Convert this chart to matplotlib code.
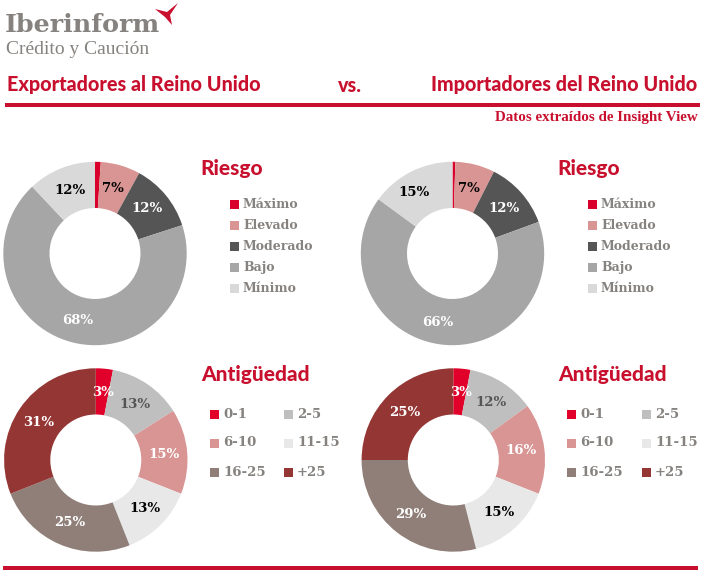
import matplotlib
matplotlib.use("Agg")
import matplotlib.pyplot as plt
from matplotlib.patches import Rectangle, Polygon

W, H = 702, 574
RED = '#c8102e'
GREY = '#85827f'

# colours of the slices
c_riesgo = ['#d9002b', '#d99494', '#555555', '#a6a6a6', '#d9d9d9']
c_antig = ['#e0002a', '#bfbfbf', '#d99494', '#e8e8e8', '#8f7f78', '#943634']

riesgo_labels = ['Máximo', 'Elevado', 'Moderado', 'Bajo', 'Mínimo']
antig_labels = ['0-1', '2-5', '6-10', '11-15', '16-25', '+25']

# value, shown text (None = no label), label colour, label position px
charts = [
    dict(cx=95, cy=253.5, colors=c_riesgo,
         values=[1, 7, 12, 68, 12],
         labels=[None, '7%', '12%', '68%', '12%'],
         tcol=[None, 'black', 'white', 'white', 'black'],
         tpos=[None, (113, 188), (147, 209), (78, 321), (70, 190)]),
    dict(cx=452.5, cy=253.5, colors=c_riesgo,
         values=[0.5, 7, 12, 66, 15],
         labels=[None, '7%', '12%', '66%', '15%'],
         tcol=[None, 'black', 'white', 'white', 'black'],
         tpos=[None, (469, 188), (504, 208), (438, 322), (414, 192)]),
    dict(cx=95.8, cy=460, colors=c_antig,
         values=[3, 13, 15, 13, 25, 31],
         labels=['3%', '13%', '15%', '13%', '25%', '31%'],
         tcol=['white', '#555555', 'white', 'black', 'white', 'white'],
         tpos=[(103, 392), (135, 404), (164, 454), (145, 508), (70, 523), (39, 422)]),
    dict(cx=453.3, cy=460, colors=c_antig,
         values=[3, 12, 16, 15, 29, 25],
         labels=['3%', '12%', '16%', '15%', '29%', '25%'],
         tcol=['white', '#555555', 'white', 'black', 'white', 'white'],
         tpos=[(461, 392), (491, 403), (521, 451), (499, 512), (411, 515), (405, 412)]),
]
R = 91.7
HOLE = 45.5


def add_donut(fig, ch):
    ax = fig.add_axes([(ch['cx'] - R) / W, 1 - (ch['cy'] + R) / H, 2 * R / W, 2 * R / H])
    ax.pie(ch['values'], colors=ch['colors'], startangle=90, counterclock=False,
           radius=1.0, wedgeprops=dict(width=1 - HOLE / R, linewidth=0))
    ax.set_xlim(-1, 1)
    ax.set_ylim(-1, 1)
    ax.set_aspect('equal')
    ax.axis('off')


def main():
    fig = plt.figure(figsize=(W / 100, H / 100), dpi=100)
    for ch in charts:
        add_donut(fig, ch)

    # overlay in pixel coords for titles, legends and rules
    ov = fig.add_axes([0, 0, 1, 1], facecolor='none')
    ov.set_xlim(0, W)
    ov.set_ylim(H, 0)
    ov.axis('off')

    for ch in charts:
        for lab, col, pos in zip(ch['labels'], ch['tcol'], ch['tpos']):
            if lab:
                ov.text(pos[0], pos[1], lab, color=col, fontsize=9.5, ha='center', va='center',
                        family='DejaVu Serif', fontweight='bold')

    # logo
    ov.text(5, 25, 'Iberinform', color=GREY, fontsize=18.3, family='DejaVu Serif',
            fontweight='bold', ha='left', va='center')
    ov.text(6, 49, 'Crédito y Caución', color=GREY, fontsize=14, family='Liberation Serif',
            ha='left', va='center')
    ov.add_patch(Polygon([(155, 9), (167, 12), (178, 3), (170, 15), (172, 25), (165, 17)],
                         closed=True, fc=RED, ec='none'))

    # headers
    head = dict(color=RED, fontsize=14.2, family='Lato', fontweight='black', va='center')
    ov.text(7, 85, 'Exportadores al Reino Unido', ha='left', **head)
    ov.text(350, 85, 'vs.', ha='center', **head)
    ov.text(697, 84, 'Importadores del Reino Unido', ha='right', **head)
    ov.add_patch(Rectangle((5, 103), 695, 4, fc=RED, ec='none'))
    ov.text(698, 118, 'Datos extraídos de Insight View', color=RED, fontsize=10.8,
            family='Liberation Serif', fontweight='bold', ha='right', va='center')
    ov.add_patch(Rectangle((3, 566), 695, 4, fc=RED, ec='none'))

    # riesgo legends
    for x0, tx in [(230, 200), (588, 557)]:
        ov.text(tx, 168.5, 'Riesgo', color=RED, fontsize=15, family='Lato', fontweight='black',
                ha='left', va='center')
        for i, name in enumerate(riesgo_labels):
            y = 204 + i * 21.2
            ov.add_patch(Rectangle((x0, y - 4.5), 9, 9, fc=c_riesgo[i], ec='none'))
            ov.text(x0 + 13, y, name, color=GREY, fontsize=9, family='DejaVu Serif',
                    fontweight='bold', ha='left', va='center')

    # antiguedad legends
    for x0, x1, tx in [(210, 284, 201), (567, 642, 558)]:
        ov.text(tx, 374.5, 'Antigüedad', color=RED, fontsize=15, family='Lato', fontweight='black',
                ha='left', va='center')
        for i, name in enumerate(antig_labels):
            x = x1 if i % 2 else x0
            y = 414 + (i // 2) * 29
            ov.add_patch(Rectangle((x, y - 4.5), 9, 9, fc=c_antig[i], ec='none'))
            ov.text(x + 13, y, name, color=GREY, fontsize=9.5, family='DejaVu Serif',
                    fontweight='bold', ha='left', va='center')

    fig.savefig('out.png', dpi=100)


if __name__ == '__main__':
    main()
